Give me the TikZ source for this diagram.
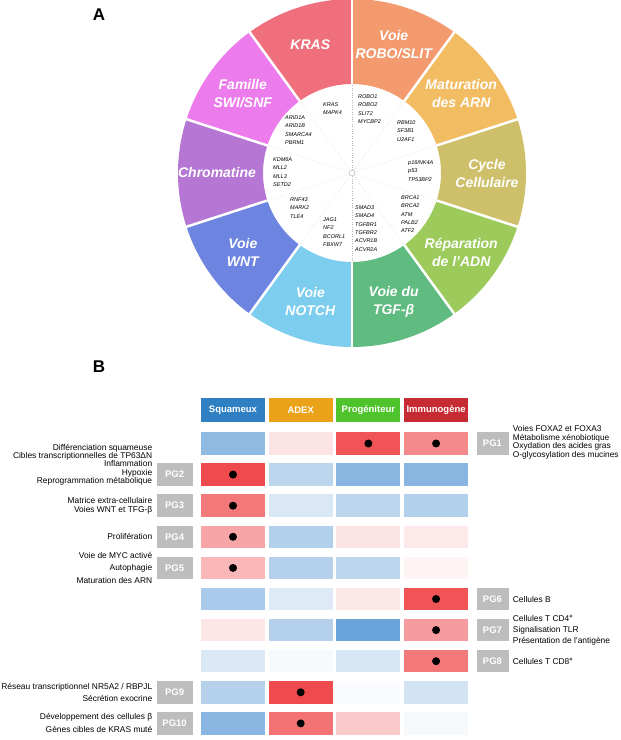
\documentclass[tikz,border=0pt]{standalone}
\usepackage{fontspec}
\setmainfont{Liberation Sans}
\usepackage{tikz}
\usetikzlibrary{positioning}
\definecolor{segkras}{HTML}{EF707C}
\definecolor{segrobo}{HTML}{F49A6F}
\definecolor{segmatur}{HTML}{F2BC63}
\definecolor{segcycle}{HTML}{CEC06B}
\definecolor{segrepar}{HTML}{9CCB5C}
\definecolor{segtgf}{HTML}{5FBB80}
\definecolor{segnotch}{HTML}{7CCDEE}
\definecolor{segwnt}{HTML}{6D85E0}
\definecolor{segchrom}{HTML}{B577D3}
\definecolor{segswi}{HTML}{EC7CEC}
\definecolor{hsq}{HTML}{2F80C3}
\definecolor{hadex}{HTML}{EAA219}
\definecolor{hprog}{HTML}{4FC32C}
\definecolor{himm}{HTML}{C62A32}
\definecolor{hblue}{HTML}{6AA4DA}
\definecolor{hred}{HTML}{EF4B4E}
\definecolor{pggray}{HTML}{BDBDBD}

\begin{document}
\begin{tikzpicture}[x=1pt,y=1pt,
    seglabel/.style={text=white,align=center,font=\fontsize{14}{18}\selectfont\bfseries\itshape},
    genelist/.style={anchor=north west,align=left,inner sep=0pt,font=\fontsize{5.5}{8.3}\selectfont\itshape},
    cell/.style={minimum width=64pt,minimum height=22.5pt,inner sep=0pt},
    head/.style={cell,minimum height=24pt,text=white,font=\fontsize{9.5}{10}\selectfont\bfseries},
    pgbox/.style={fill=pggray,text=white,minimum width=36pt,minimum height=22.5pt,inner sep=0pt,
                  font=\fontsize{9.5}{10}\selectfont\bfseries},
    desc/.style={inner sep=0pt,font=\fontsize{8.4}{9}\selectfont},
    hit/.style={circle,fill=black,inner sep=0pt,minimum size=8pt},
    panel/.style={font=\fontsize{17}{17}\selectfont\bfseries}]
  \useasboundingbox (0,0) rectangle (621,740);

  \node[panel] (lblA) at (99,725) {A};
  \node[panel] (lblB) at (99,373) {B};

  \begin{scope}[shift={(352,567)}]
    \foreach \ang/\col/\txt [count=\i] in {72/segrobo/{Voie\\ROBO/SLIT},36/segmatur/{Maturation\\des ARN},
        0/segcycle/{Cycle\\Cellulaire},-36/segrepar/{Réparation\\de l'ADN},-72/segtgf/{Voie du\\TGF-β},
        -108/segnotch/{Voie\\NOTCH},-144/segwnt/{Voie\\WNT},180/segchrom/{Chromatine},
        144/segswi/{Famille\\SWI/SNF},108/segkras/{KRAS}} {
      \fill[\col] ({\ang-18}:89pt) arc[start angle=\ang-18,end angle=\ang+18,radius=89pt]
        -- ({\ang+18}:174pt) arc[start angle=\ang+18,end angle=\ang-18,radius=174pt] -- cycle;
      \node[seglabel] (seg\i) at (\ang:135pt) {\txt};
    }
    \node[circle,draw=gray!60,fill=white,minimum size=6pt,inner sep=0pt] (hub) at (0,0) {};
    \foreach \b in {90,54,18,-18,-54,-90,-126,-162,162,126} {
      \draw[white,line width=2.5pt] (\b:88pt) -- (\b:176pt);
      \draw[gray!60,dotted] (hub) -- (\b:89pt);
    }
  \end{scope}

  \foreach \x/\y/\genes [count=\i] in {323/105/{KRAS\\MAPK4},358/97/{ROBO1\\ROBO2\\SLIT2\\MYCBP2},
      397/123/{RBM10\\SF3B1\\U2AF1},408/163/{p16INK4A\\p53\\TP53BP2},401/198/{BRCA1\\BRCA2\\ATM\\PALB2\\ATF2},
      355/208/{SMAD3\\SMAD4\\TGFBR1\\TGFBR2\\ACVR1B\\ACVR2A},323/220/{JAG1\\NF2\\BCORL1\\FBXW7},
      290/200/{RNF43\\MARK2\\TLE4},273/160/{KDM6A\\MLL2\\MLL3\\SETD2},285/118/{ARID1A\\ARID1B\\SMARCA4\\PBRM1}}
    \node[genelist] (g\i) at (\x,{742.5-\y}) {\genes};

  \foreach \t/\col [count=\j] in {Squameux/hsq,ADEX/hadex,Progéniteur/hprog,Immunogène/himm}
    \node[head,fill=\col] (h\j) at ({233+67.7*(\j-1)},330) {\t};

  \foreach \vals [count=\i] in {
      {hblue!75,hred!15,hred!95,hred!65},
      {hred,hblue!45,hblue!80,hblue!80},
      {hred!75,hblue!25,hblue!45,hblue!52},
      {hred!50,hblue!52,hred!15,hred!12},
      {hred!40,hblue!50,hblue!45,hred!6},
      {hblue!58,hblue!22,hred!13,hred!95},
      {hred!14,hblue!50,hblue!100,hred!55},
      {hblue!24,hblue!6,hblue!27,hred!75},
      {hblue!50,hred,hblue!4,hblue!30},
      {hblue!80,hred!78,hred!30,hblue!7}}
    \foreach \c [count=\j] in \vals
      \node[cell,fill=\c] (c\i-\j) at ({233+67.7*(\j-1)},{296.5-31.1*(\i-1)}) {};

  \foreach \i/\j in {1/3,1/4,2/1,3/1,4/1,5/1,6/4,7/4,8/4,9/2,10/2}
    \node[hit] (d\i-\j) at (c\i-\j) {};

  \foreach \i in {2,3,4,5,9,10}
    \node[pgbox,left=8pt of c\i-1] (pg\i) {PG\i};
  \foreach \i in {1,6,7,8}
    \node[pgbox,minimum width=32pt,right=8pt of c\i-4] (pg\i) {PG\i};

  \node[desc,align=right,left=4pt of pg2,yshift=10pt,font=\fontsize{8.4}{8.3}\selectfont] (l2)
    {Différenciation squameuse\\Cibles transcriptionnelles de TP63ΔN\\Inflammation\\Hypoxie\\Reprogrammation métabolique};
  \node[desc,align=right,left=4pt of pg3] (l3) {Matrice extra-cellulaire\\Voies WNT et TFG-β};
  \node[desc,align=right,left=4pt of pg4] (l4) {Prolifération};
  \node[desc,align=right,left=4pt of pg5,font=\fontsize{8.4}{12.5}\selectfont] (l5)
    {Voie de MYC activé\\Autophagie\\Maturation des ARN};
  \node[desc,align=right,left=4pt of pg9,font=\fontsize{8.4}{12}\selectfont] (l9)
    {Réseau transcriptionnel NR5A2 / RBPJL\\Sécrétion exocrine};
  \node[desc,align=right,left=4pt of pg10,font=\fontsize{8.4}{13}\selectfont] (l10)
    {Développement des cellules β\\Gènes cibles de KRAS muté};

  \node[desc,align=left,right=4pt of pg1,yshift=1pt,font=\fontsize{8.3}{8.7}\selectfont] (r1)
    {Voies FOXA2 et FOXA3\\Métabolisme xénobiotique\\Oxydation des acides gras\\O-glycosylation des mucines};
  \node[desc,align=left,right=4pt of pg6] (r6) {Cellules B};
  \node[desc,align=left,right=4pt of pg7,font=\fontsize{8.4}{11}\selectfont] (r7)
    {Cellules T CD4\textsuperscript{\textbf{+}}\\Signalisation TLR\\Présentation de l'antigène};
  \node[desc,align=left,right=4pt of pg8] (r8) {Cellules T CD8\textsuperscript{\textbf{+}}};
\end{tikzpicture}
\end{document}
